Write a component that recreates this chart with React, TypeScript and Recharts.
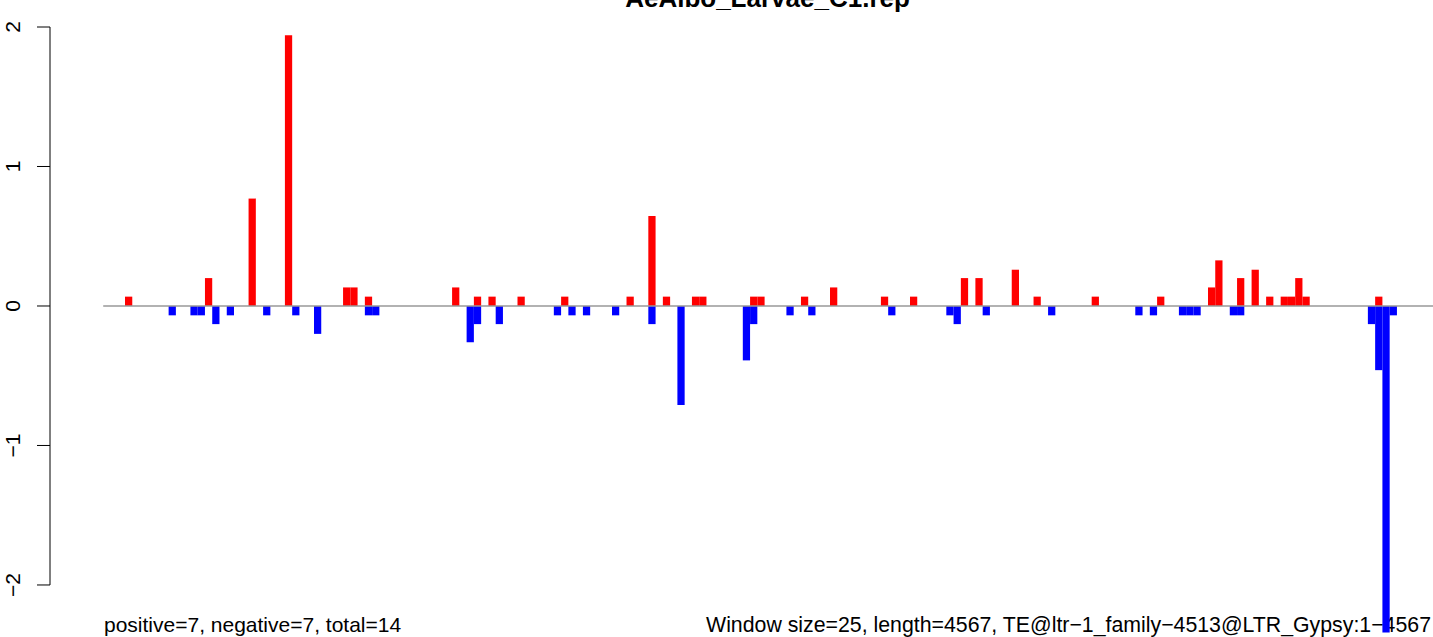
import { Bar, BarChart, ReferenceLine, XAxis, YAxis } from "recharts";

const windowCount = 183;

// window index -> enrichment
const posWindows = [3, 14, 20, 25, 33, 34, 36, 48, 51, 53, 57, 63, 72, 75, 77, 81, 82, 89, 90, 96, 100, 107, 111, 118, 120, 125, 128, 136, 145, 152, 153, 156, 158, 160, 162, 163, 164, 165, 175];
const posValues = [0.067, 0.2, 0.77, 1.94, 0.133, 0.133, 0.067, 0.133, 0.067, 0.067, 0.067, 0.067, 0.067, 0.645, 0.067, 0.067, 0.067, 0.067, 0.067, 0.067, 0.133, 0.067, 0.067, 0.2, 0.2, 0.26, 0.067, 0.067, 0.067, 0.133, 0.327, 0.2, 0.26, 0.067, 0.067, 0.067, 0.2, 0.067, 0.067];
const negWindows = [9, 12, 13, 15, 17, 22, 26, 29, 36, 37, 50, 51, 54, 62, 64, 66, 70, 75, 79, 88, 89, 94, 97, 108, 116, 117, 121, 130, 142, 144, 148, 149, 150, 155, 156, 174, 175, 176, 177];
const negValues = [-0.067, -0.067, -0.067, -0.13, -0.067, -0.067, -0.067, -0.2, -0.067, -0.067, -0.26, -0.13, -0.13, -0.067, -0.067, -0.067, -0.067, -0.13, -0.71, -0.39, -0.13, -0.067, -0.067, -0.067, -0.067, -0.13, -0.067, -0.067, -0.067, -0.067, -0.067, -0.067, -0.067, -0.067, -0.067, -0.13, -0.46, -2.34, -0.067];

const yTicks = [-2, -1, 0, 1, 2];
const title = "AeAlbo_Larvae_C1.rep";
const leftNote = "positive=7, negative=7, total=14";
const rightNote = "Window size=25, length=4567, TE@ltr\u22121_family\u22124513@LTR_Gypsy:1\u22124567";

const data = Array.from({ length: windowCount }, (_, i) => ({ x: i + 0.5, pos: 0, neg: 0 }));
posWindows.forEach((w, k) => {
  data[w].pos = posValues[k];
});
negWindows.forEach((w, k) => {
  data[w].neg = negValues[k];
});

const FONT = "'Liberation Sans', Arial, Helvetica, sans-serif";
const W = 1433;
const H = 637;

const fmtTick = (v: number) => (v < 0 ? `\u2212${Math.abs(v)}` : `${v}`);

const YTick = (props: any) => {
  const { y, payload } = props;
  return (
    <text x={20} y={y} transform={`rotate(-90, 20, ${y})`} textAnchor="middle" fontSize={21} fontFamily={FONT} fill="#000">
      {fmtTick(payload.value)}
    </text>
  );
};

export default function App() {
  return (
    <div style={{ position: "absolute", left: 0, top: 0, width: W, height: H, background: "#fff", overflow: "hidden" }}>
      <BarChart
        width={W}
        height={H}
        data={data}
        stackOffset="sign"
        barGap={0}
        barCategoryGap={0}
        margin={{ top: 27, right: 0, bottom: 4.6, left: 0 }}
      >
        <XAxis type="number" dataKey="x" domain={[-7.32, 182.96]} hide />
        <YAxis
          width={50}
          domain={[-2.34, 2]}
          ticks={yTicks}
          interval={0}
          axisLine={false}
          tickLine={{ stroke: "#000", strokeWidth: 1 }}
          tickSize={13}
          tick={<YTick />}
        />
        <ReferenceLine segment={[{ x: -7.32, y: -2 }, { x: -7.32, y: 2 }]} stroke="#000" strokeWidth={1} ifOverflow="visible" />
        <ReferenceLine segment={[{ x: 0, y: 0 }, { x: 182.96, y: 0 }]} stroke="#999" strokeWidth={1.5} ifOverflow="visible" />
        <Bar dataKey="pos" stackId="s" fill="#ff0000" barSize={7.26} isAnimationActive={false} />
        <Bar dataKey="neg" stackId="s" fill="#0000ff" barSize={7.26} isAnimationActive={false} />
        <text x={767.5} y={7} textAnchor="middle" fontSize={26} fontWeight="bold" fontFamily={FONT} fill="#000">
          {title}
        </text>
        <text x={104} y={632} fontSize={21} fontFamily={FONT} fill="#000">
          {leftNote}
        </text>
        <text x={1431} y={632} textAnchor="end" fontSize={21.3} fontFamily={FONT} fill="#000">
          {rightNote}
        </text>
      </BarChart>
    </div>
  );
}
